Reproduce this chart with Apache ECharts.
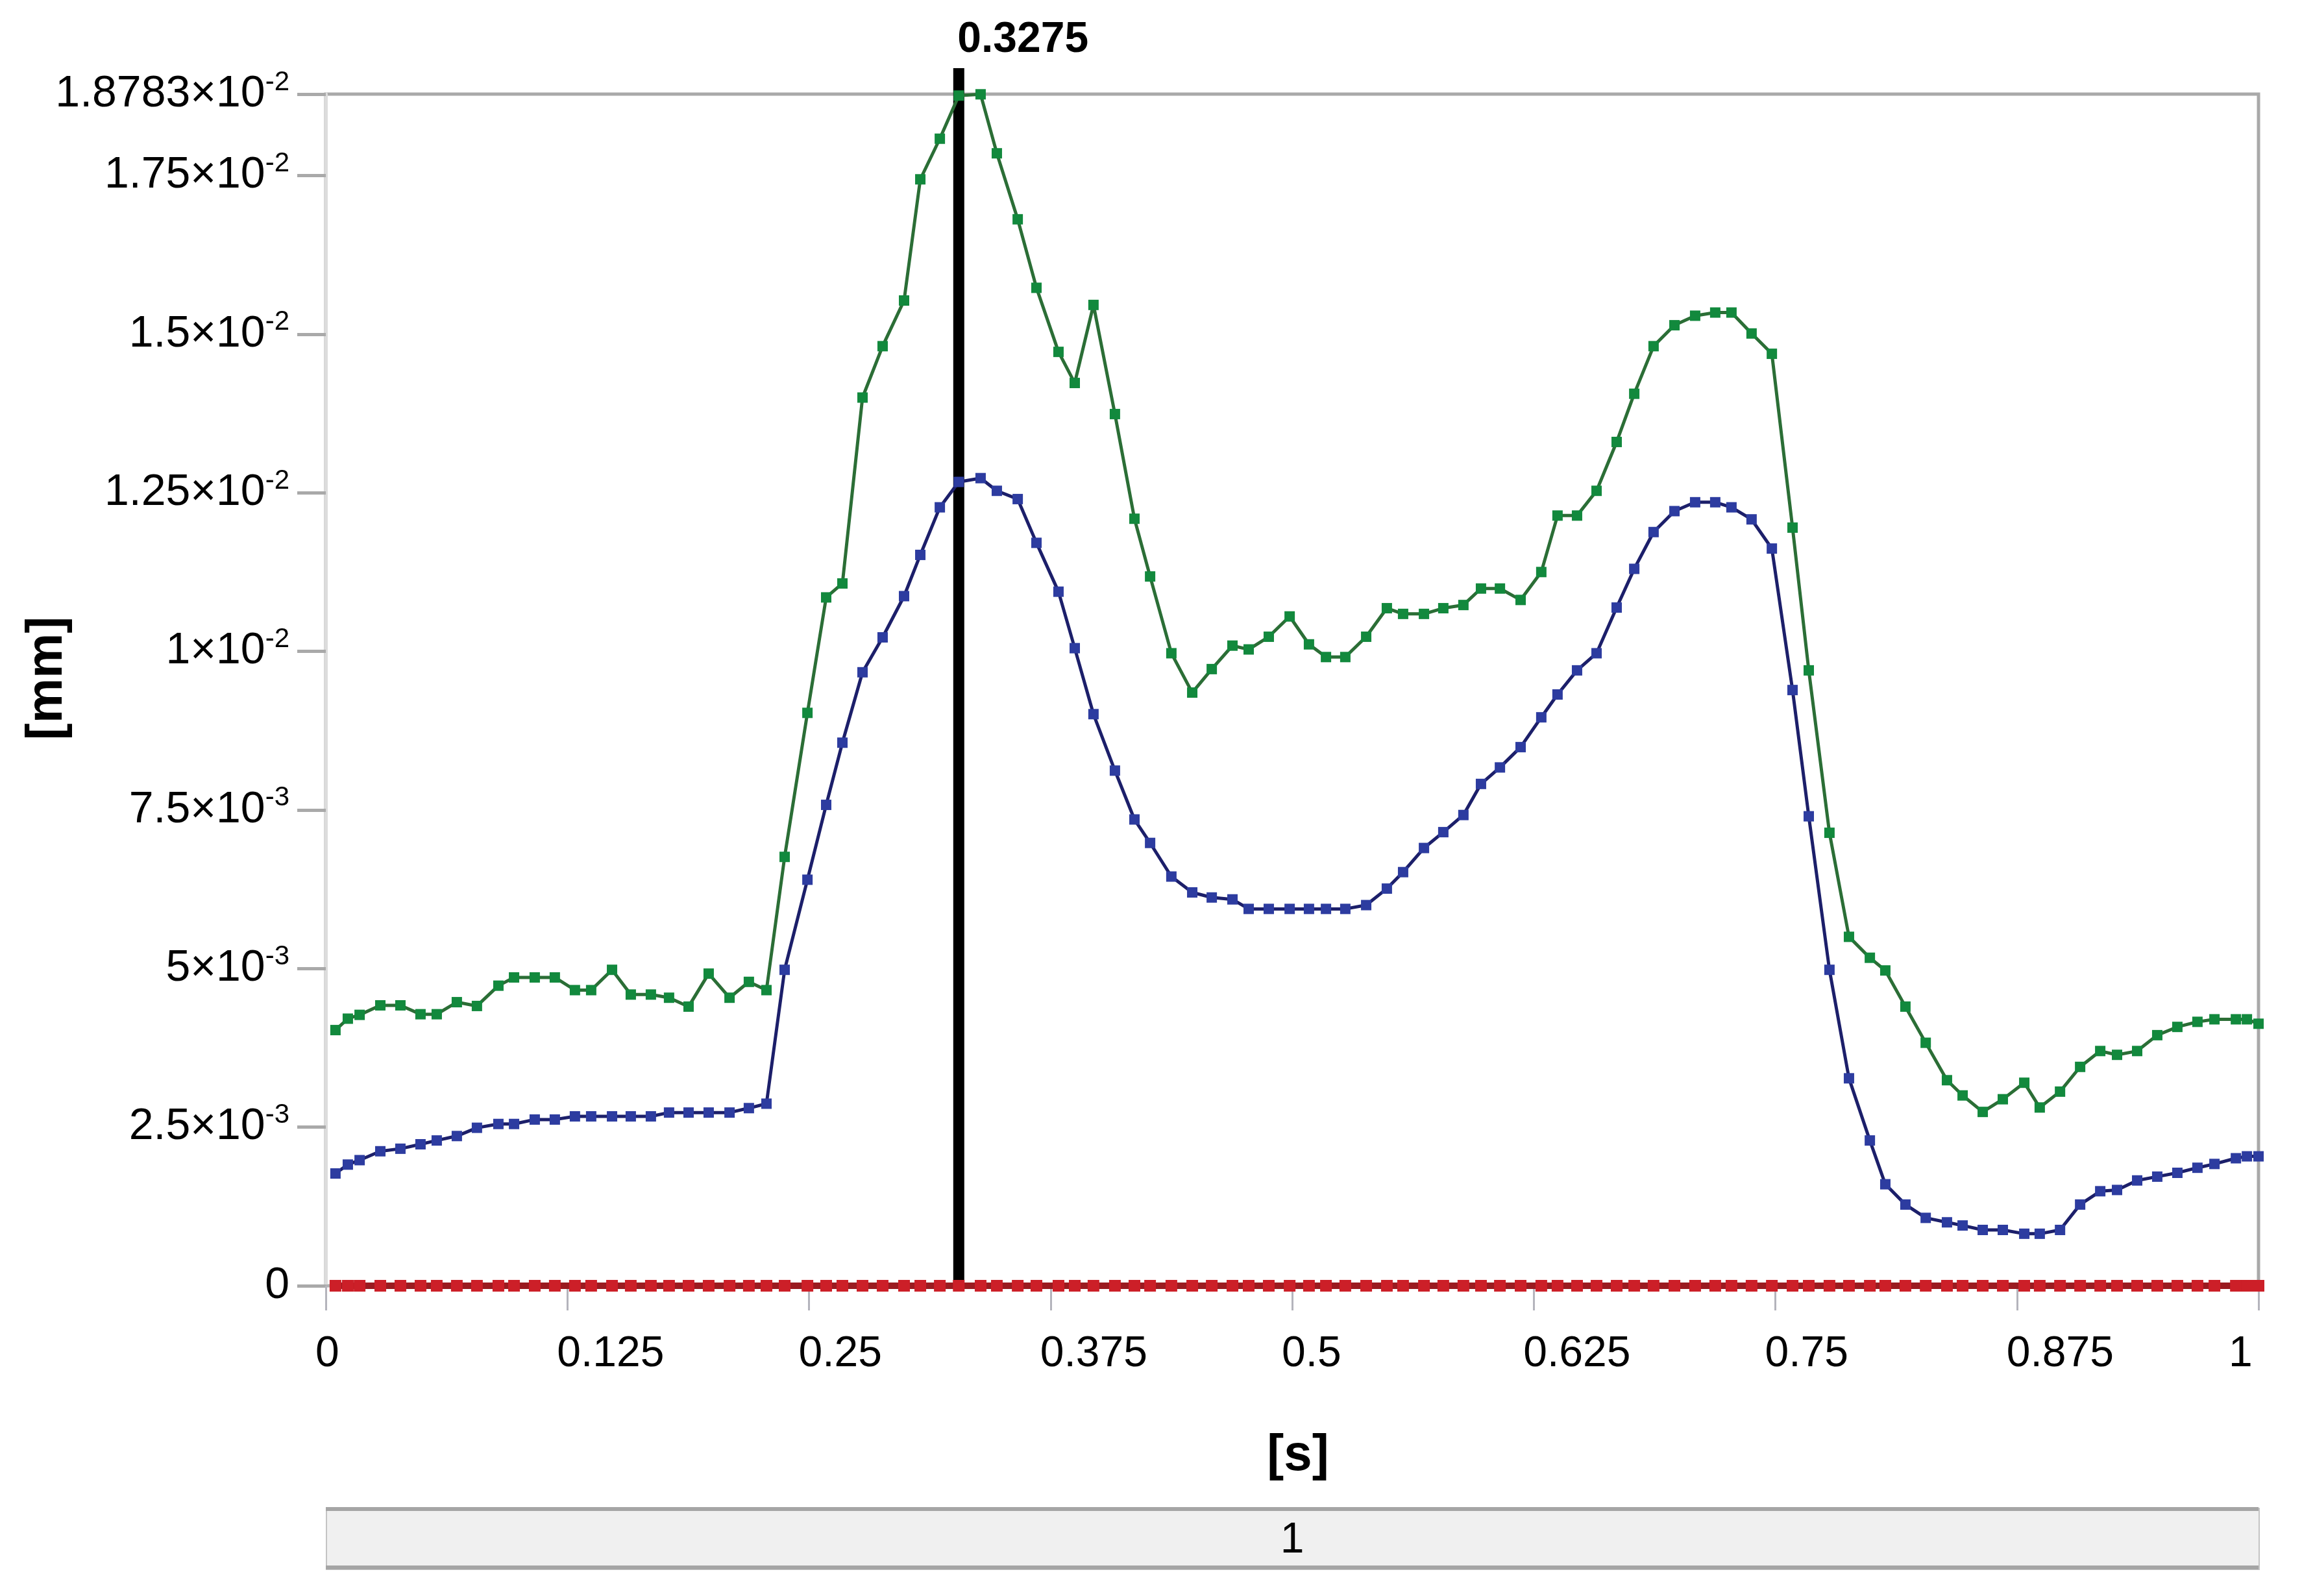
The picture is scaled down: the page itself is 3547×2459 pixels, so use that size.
<!DOCTYPE html>
<html>
<head>
<meta charset="utf-8">
<script src="https://cdn.jsdelivr.net/npm/echarts@6/dist/echarts.min.js"></script>
<style>
html,body{margin:0;padding:0;background:#fff;}
#chart{width:3547px;height:2459px;}
</style>
</head>
<body>
<div id="chart"></div>
<script>
// time steps [s]
const times = [
0.005, 0.0114, 0.0175, 0.0282, 0.0386, 0.049, 0.0574, 0.0678, 0.0782, 0.0893,
0.0974, 0.1081, 0.1185, 0.1289, 0.1373, 0.1481, 0.1578, 0.1682, 0.1776, 0.1877,
0.1981, 0.2089, 0.2189, 0.228, 0.2374, 0.2492, 0.2589, 0.2673, 0.2777, 0.2881,
0.2992, 0.3076, 0.3177, 0.3275, 0.3388, 0.3472, 0.358, 0.3677, 0.3791, 0.3875,
0.3972, 0.4083, 0.4184, 0.4265, 0.4375, 0.4483, 0.4584, 0.4691, 0.4775, 0.4879,
0.4987, 0.5087, 0.5175, 0.5275, 0.5383, 0.549, 0.5574, 0.5682, 0.5782, 0.5886,
0.5977, 0.6075, 0.6182, 0.6289, 0.6373, 0.6474, 0.6575, 0.6679, 0.677, 0.687,
0.6978, 0.7085, 0.7189, 0.7273, 0.7377, 0.7482, 0.7589, 0.7673, 0.778, 0.7881,
0.7989, 0.8069, 0.8173, 0.8278, 0.8388, 0.8469, 0.8573, 0.8677, 0.8788, 0.8868,
0.8973, 0.9077, 0.9181, 0.9268, 0.9372, 0.9476, 0.958, 0.9684, 0.9772, 0.9883,
0.994, 1.0
];
// values in units of 1e-3 mm
const greenE3 = [
4.03, 4.21, 4.27, 4.42, 4.42, 4.28, 4.28, 4.47, 4.41, 4.73,
4.86, 4.86, 4.86, 4.66, 4.66, 4.98, 4.59, 4.59, 4.54, 4.40,
4.92, 4.54, 4.79, 4.66, 6.76, 9.03, 10.85, 11.07, 14.0, 14.81,
15.53, 17.44, 18.08, 18.76, 18.78, 17.85, 16.81, 15.73, 14.72, 14.23,
15.46, 13.74, 12.09, 11.18, 9.97, 9.35, 9.72, 10.09, 10.03, 10.23,
10.55, 10.11, 9.91, 9.91, 10.23, 10.68, 10.59, 10.59, 10.68, 10.73,
10.99, 10.99, 10.81, 11.25, 12.14, 12.14, 12.53, 13.3, 14.06, 14.81,
15.14, 15.29, 15.34, 15.34, 15.01, 14.69, 11.95, 9.70, 7.14, 5.50,
5.17, 4.97, 4.40, 3.83, 3.24, 3.00, 2.74, 2.94, 3.20, 2.81,
3.06, 3.45, 3.70, 3.64, 3.70, 3.95, 4.08, 4.16, 4.20, 4.20,
4.20, 4.13
];
const blueE3 = [
1.77, 1.91, 1.98, 2.12, 2.16, 2.23, 2.29, 2.36, 2.49, 2.55,
2.55, 2.62, 2.62, 2.67, 2.67, 2.67, 2.67, 2.67, 2.73, 2.73,
2.73, 2.73, 2.80, 2.87, 4.98, 6.40, 7.58, 8.56, 9.67, 10.22,
10.87, 11.52, 12.27, 12.67, 12.73, 12.53, 12.40, 11.71, 10.94, 10.05,
9.01, 8.12, 7.35, 6.98, 6.45, 6.20, 6.12, 6.09, 5.94, 5.94,
5.94, 5.94, 5.94, 5.94, 6.00, 6.26, 6.52, 6.90, 7.15, 7.42,
7.91, 8.17, 8.49, 8.96, 9.32, 9.70, 9.97, 10.69, 11.30, 11.88,
12.21, 12.35, 12.35, 12.27, 12.08, 11.62, 9.39, 7.40, 4.98, 3.27,
2.29, 1.60, 1.28, 1.07, 1.00, 0.95, 0.88, 0.88, 0.82, 0.82,
0.88, 1.28, 1.49, 1.51, 1.66, 1.72, 1.78, 1.86, 1.92, 2.01,
2.04, 2.04
];
const redE3 = [
0,0,0,0,0,0,0,0,0,0, 0,0,0,0,0,0,0,0,0,0,
0,0,0,0,0,0,0,0,0,0, 0,0,0,0,0,0,0,0,0,0,
0,0,0,0,0,0,0,0,0,0, 0,0,0,0,0,0,0,0,0,0,
0,0,0,0,0,0,0,0,0,0, 0,0,0,0,0,0,0,0,0,0,
0,0,0,0,0,0,0,0,0,0, 0,0,0,0,0,0,0,0,0,0,
0,0
];
const cursorTime = 0.3275;
const cursorLabel = '0.3275';
const xTickValues = [0, 0.125, 0.25, 0.375, 0.5, 0.625, 0.75, 0.875, 1];
const xTickLabels = ['0', '0.125', '0.25', '0.375', '0.5', '0.625', '0.75', '0.875', '1'];
const yTickValues = [0, 2.5, 5, 7.5, 10, 12.5, 15, 17.5, 18.783];
const yTickMantissas = ['0', '2.5', '5', '7.5', '1', '1.25', '1.5', '1.75', '1.8783'];
const yTickExponents = ['', '-3', '-3', '-3', '-2', '-2', '-2', '-2', '-2'];
const yMaxE3 = 18.783;
const pageLabel = '1';

const FONT = "'Liberation Sans', Arial, sans-serif";
const chart = echarts.init(document.getElementById('chart'), null, {renderer: 'canvas'});

function pairs(vals) { return times.map((t, i) => [t, vals[i]]); }
function idx(arr, v) { for (let i = 0; i < arr.length; i++) if (Math.abs(arr[i] - v) < 1e-6) return i; return -1; }

const option = {
  backgroundColor: '#ffffff',
  animation: false,
  grid: {
    left: 502, right: 67, top: 145, bottom: 478,
    show: true, borderColor: '#a9a9a9', borderWidth: 5, backgroundColor: '#ffffff',
    outerBoundsMode: 'none'
  },
  xAxis: {
    type: 'value', min: 0, max: 1, interval: 0.125,
    name: '[s]', nameLocation: 'middle', nameGap: 223, nameMoveOverlap: false,
    nameTextStyle: {fontFamily: FONT, fontSize: 78, fontWeight: 'bold', color: '#000', padding: [0, 0, 0, 18]},
    axisLine: {show: true, lineStyle: {color: '#b0b0b0', width: 4}},
    axisTick: {show: true, length: 38, lineStyle: {color: '#b4b4bc', width: 3}},
    splitLine: {show: false},
    axisLabel: {
      margin: 73, color: '#000', fontFamily: FONT, fontSize: 66, align: 'center',
      formatter: function (v) {
        const i = idx(xTickValues, v);
        const s = i >= 0 ? xTickLabels[i] : '';
        return (v === 1 ? '{r|' : '{l|') + s + '}';
      },
      rich: {
        l: {width: 32, align: 'left', fontFamily: FONT, fontSize: 66, color: '#000'},
        r: {width: 92, align: 'left', fontFamily: FONT, fontSize: 66, color: '#000'}
      }
    }
  },
  yAxis: {
    type: 'value', min: 0, max: yMaxE3, interval: 2.5,
    name: '[mm]', nameLocation: 'middle', nameGap: 390, nameMoveOverlap: false,
    nameTextStyle: {fontFamily: FONT, fontSize: 78, fontWeight: 'bold', color: '#000', padding: [0, 0, 0, 36]},
    axisLine: {show: true, lineStyle: {color: '#dcdcdc', width: 5}},
    axisTick: {show: true, length: 44, lineStyle: {color: '#a9a9a9', width: 5}},
    splitLine: {show: false},
    axisLabel: {
      margin: 56, color: '#000', fontFamily: FONT, fontSize: 68,
      formatter: function (v) {
        const i = idx(yTickValues, v);
        if (i < 0) return '';
        if (yTickExponents[i] === '') return '{m|' + yTickMantissas[i] + '}';
        return '{m|' + yTickMantissas[i] + '×10}{s|' + yTickExponents[i] + '}';
      },
      rich: {
        m: {fontFamily: FONT, fontSize: 68, color: '#000', lineHeight: 78},
        s: {fontFamily: FONT, fontSize: 42, color: '#000', verticalAlign: 'top', lineHeight: 46}
      }
    }
  },
  series: [
    {
      type: 'custom', name: 'cursor', z: 1, silent: true, clip: false,
      data: [[cursorTime]],
      renderItem: function (params, api) {
        const p0 = api.coord([api.value(0), 0]);
        const p1 = api.coord([api.value(0), yMaxE3]);
        const topY = p1[1] - 40;
        return {
          type: 'group',
          children: [
            {type: 'line', shape: {x1: p0[0], y1: p0[1], x2: p1[0], y2: topY},
             style: {stroke: '#000', lineWidth: 17}},
            {type: 'text', style: {text: cursorLabel, x: p0[0] - 2, y: topY - 10,
             align: 'left', verticalAlign: 'bottom', fill: '#000',
             font: 'bold 66px ' + FONT}}
          ]
        };
      }
    },
    {
      type: 'line', name: 'blue', z: 3, data: pairs(blueE3),
      symbol: 'rect', symbolSize: 16, showAllSymbol: true,
      lineStyle: {color: '#1c1f6a', width: 5},
      itemStyle: {color: '#2d3ca0'}
    },
    {
      type: 'line', name: 'green', z: 3, data: pairs(greenE3),
      symbol: 'rect', symbolSize: 16, showAllSymbol: true,
      lineStyle: {color: '#2b6e36', width: 5},
      itemStyle: {color: '#12893d'}
    },
    {
      type: 'line', name: 'red', z: 3, data: pairs(redE3),
      symbol: 'rect', symbolSize: 18, showAllSymbol: true,
      lineStyle: {color: '#9a1b20', width: 10},
      itemStyle: {color: '#cc1f28'}
    }
  ],
  graphic: [
    {type: 'rect', left: 502, top: 2323, z: 10,
     shape: {width: 2978, height: 94},
     style: {fill: '#f0f0f0', stroke: '#c4c4c4', lineWidth: 2}},
    {type: 'rect', left: 502, top: 2322, z: 11, shape: {width: 2978, height: 6}, style: {fill: '#a5a5a5'}},
    {type: 'rect', left: 502, top: 2412, z: 11, shape: {width: 2978, height: 6}, style: {fill: '#a5a5a5'}},
    {type: 'text', x: 1991, y: 2374, z: 12,
     style: {text: pageLabel, fill: '#000', font: '66px ' + FONT, align: 'center', verticalAlign: 'middle'}}
  ]
};
chart.setOption(option);
</script>
</body>
</html>
